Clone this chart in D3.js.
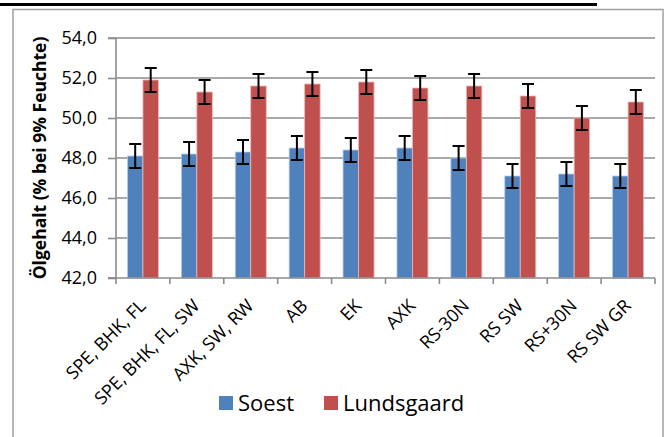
<!DOCTYPE html>
<html>
<head>
<meta charset="utf-8">
<script src="https://cdn.jsdelivr.net/npm/d3@7"></script>
<style>
  html, body { margin: 0; padding: 0; background: #fff; }
  svg { display: block; }
</style>
</head>
<body>
<svg id="chart" width="666" height="437"></svg>
<script>
const categories = ["SPE, BHK, FL", "SPE, BHK, FL, SW", "AXK, SW, RW", "AB", "EK", "AXK", "RS-30N", "RS SW", "RS+30N", "RS SW GR"];
const seriesNames = ["Soest", "Lundsgaard"];
const soest = [48.1, 48.2, 48.3, 48.5, 48.4, 48.5, 48.0, 47.1, 47.2, 47.1];
const lundsgaard = [51.9, 51.3, 51.6, 51.7, 51.8, 51.5, 51.6, 51.1, 50.0, 50.8];
const soestErr = [0.6, 0.6, 0.6, 0.6, 0.6, 0.6, 0.6, 0.6, 0.6, 0.6];
const lundsgaardErr = [0.6, 0.6, 0.6, 0.6, 0.6, 0.6, 0.6, 0.6, 0.6, 0.6];
const yTicks = [42, 44, 46, 48, 50, 52, 54];
const yTitle = "Ölgehalt (% bei 9% Feuchte)";
const colors = ["#4f81bd", "#c0504d"];

(function () {
const svg = d3.select("#chart");
const font = "'Open Sans', sans-serif";

// top black line and outer frame
svg.append("line").attr("x1", 0).attr("x2", 597).attr("y1", 4.5).attr("y2", 4.5)
  .attr("stroke", "#000").attr("stroke-width", 3);
svg.append("rect").attr("x", 13).attr("y", 9.5).attr("width", 650).attr("height", 440)
  .attr("fill", "none").attr("stroke", "#a0a0a0").attr("stroke-width", 1.5);

const pl = 116, pr = 655, pt = 38, pb = 278;
const x = d3.scaleBand().domain(categories).range([pl, pr]).paddingInner(0).paddingOuter(0);
const y = d3.scaleLinear().domain([42, 54]).range([pb, pt]);
const groupW = 31;
const xs = d3.scaleBand().domain(seriesNames).range([0, groupW]);

// gridlines
svg.append("g").selectAll("line").data(yTicks.filter(t => t !== 42)).join("line")
  .attr("x1", pl).attr("x2", pr).attr("y1", d => y(d)).attr("y2", d => y(d))
  .attr("stroke", "#8c8c8c").attr("stroke-width", 1.6);

// bars
const data = categories.map((c, i) => ({c, vals: [
  {s: seriesNames[0], v: soest[i], e: soestErr[i]},
  {s: seriesNames[1], v: lundsgaard[i], e: lundsgaardErr[i]}]}));

const groups = svg.append("g").selectAll("g").data(data).join("g")
  .attr("transform", d => `translate(${x(d.c) + (x.bandwidth() - groupW) / 2},0)`);
groups.selectAll("rect").data(d => d.vals).join("rect")
  .attr("x", d => xs(d.s)).attr("width", xs.bandwidth())
  .attr("y", d => y(d.v)).attr("height", d => y(42) - y(d.v))
  .attr("fill", (d, i) => colors[i])
  .attr("stroke", (d, i) => i === 0 ? "#b9cde5" : "#e6b9b8").attr("stroke-width", 0.8);

// error bars
const eb = groups.selectAll("g.err").data(d => d.vals).join("g").attr("class", "err");
eb.append("line")
  .attr("x1", d => xs(d.s) + xs.bandwidth() / 2).attr("x2", d => xs(d.s) + xs.bandwidth() / 2)
  .attr("y1", d => y(d.v + d.e)).attr("y2", d => y(d.v - d.e))
  .attr("stroke", "#000").attr("stroke-width", 2);
[1, -1].forEach(sgn => {
  eb.append("line")
    .attr("x1", d => xs(d.s) + xs.bandwidth() / 2 - 6).attr("x2", d => xs(d.s) + xs.bandwidth() / 2 + 6)
    .attr("y1", d => y(d.v + sgn * d.e)).attr("y2", d => y(d.v + sgn * d.e))
    .attr("stroke", "#000").attr("stroke-width", 2);
});

// y axis
const yAxis = d3.axisLeft(y).tickValues(yTicks).tickSize(8).tickPadding(11)
  .tickFormat(d => d3.format(".1f")(d).replace(".", ","));
const gy = svg.append("g").attr("transform", `translate(${pl},0)`).call(yAxis);
gy.select(".domain").attr("stroke", "#8c8c8c").attr("stroke-width", 1.6).attr("d", `M-8,${pt}H0V${pb}H-8`);
gy.selectAll(".tick line").attr("stroke", "#8c8c8c").attr("stroke-width", 1.6);
gy.selectAll(".tick text").attr("font-family", font).attr("font-size", 18).attr("fill", "#000");

// x axis
const gx = svg.append("g").attr("transform", `translate(0,${pb})`);
gx.append("line").attr("x1", pl - 8).attr("x2", pr).attr("y1", 0).attr("y2", 0)
  .attr("stroke", "#8c8c8c").attr("stroke-width", 1.6);
const bounds = categories.map(c => x(c)).concat([pr]);
gx.selectAll("line.tk").data(bounds).join("line").attr("class", "tk")
  .attr("x1", d => d).attr("x2", d => d).attr("y1", 0).attr("y2", 6)
  .attr("stroke", "#8c8c8c").attr("stroke-width", 1.6);
gx.selectAll("text").data(categories).join("text")
  .attr("transform", d => `translate(${x(d) + x.bandwidth() / 2 + 4},${29}) rotate(-45)`)
  .attr("text-anchor", "end")
  .attr("font-family", font).attr("font-size", 18).attr("fill", "#000")
  .text(d => d);

// y title
svg.append("text")
  .attr("transform", `translate(46,${(pt + pb) / 2}) rotate(-90)`)
  .attr("text-anchor", "middle")
  .attr("font-family", font).attr("font-size", 17.5).attr("font-weight", "bold").attr("fill", "#000")
  .text(yTitle);

// legend
const legendX = [219, 324];
const lg = svg.append("g").selectAll("g").data(seriesNames).join("g")
  .attr("transform", (d, i) => `translate(${legendX[i]},396)`);
lg.append("rect").attr("width", 14).attr("height", 14).attr("fill", (d, i) => colors[i]);
lg.append("text").attr("x", 19).attr("y", 14.5)
  .attr("font-family", font).attr("font-size", 22).attr("fill", "#000")
  .text(d => d);
})();
</script>
</body>
</html>
